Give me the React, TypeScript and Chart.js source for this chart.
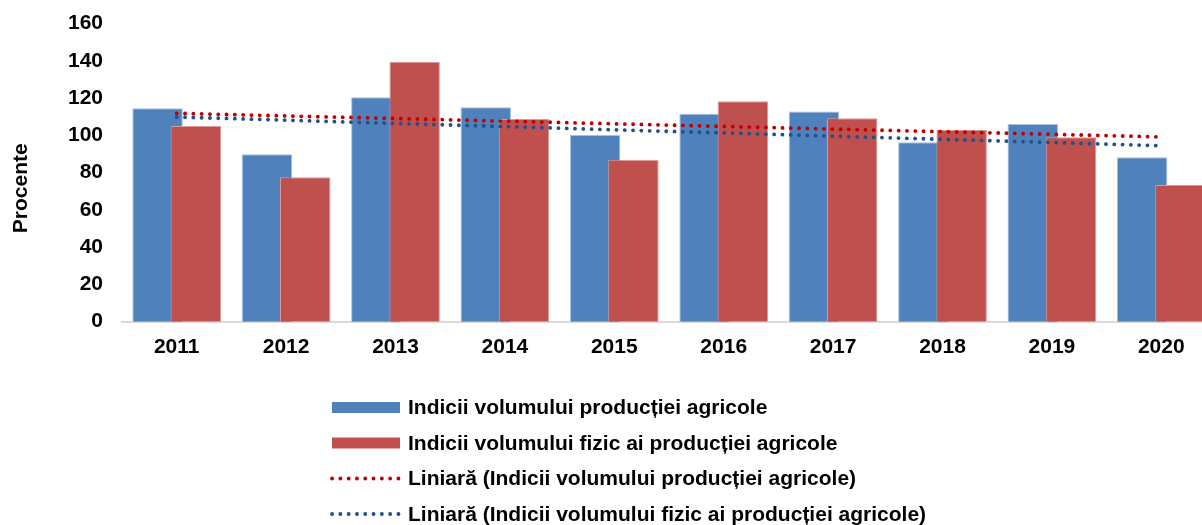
import React, { useEffect, useRef } from "react";
import { Chart, registerables } from "chart.js";

Chart.register(...registerables);

const categories = ["2011", "2012", "2013", "2014", "2015", "2016", "2017", "2018", "2019", "2020"];
const seriesA = [114.6, 89.9, 120.5, 115.1, 100.2, 111.7, 112.8, 96.3, 106.1, 88.3];
const seriesB = [105.1, 77.5, 139.6, 108.8, 87.0, 118.3, 109.2, 103.1, 99.0, 73.4];
// trend lines (read at first and last category)
const trendA = [111.9, null, null, null, null, null, null, null, null, 99.2];
const trendB = [109.9, null, null, null, null, null, null, null, null, 94.5];

const labelA = "Indicii volumului producției agricole";
const labelB = "Indicii volumului fizic ai producției agricole";
const labelTA = "Liniară (Indicii volumului producției agricole)";
const labelTB = "Liniară (Indicii volumului fizic ai producției agricole)";
const yTitle = "Procente";

const yTicks = [0, 20, 40, 60, 80, 100, 120, 140, 160];

const FONT = "Arial, 'Liberation Sans', sans-serif";
const FS = 21;
const BLUE = "#4F81BD";
const RED = "#C0504D";
const TREND_RED = "#C00000";
const TREND_BLUE = "#23508A";
const DOT_DASH = [0.1, 8.2];

const underlayPlugin = {
  id: "underlay",
  beforeDatasetsDraw(chart: any) {
    const meta = chart.getDatasetMeta(0);
    if (meta && !meta.hidden) {
      chart.ctx.save();
      meta.controller.draw();
      chart.ctx.restore();
    }
  },
  beforeDatasetDraw(_chart: any, args: any) {
    if (args.index === 0) return false;
    return true;
  },
};

const legendPlugin = {
  id: "customLegend",
  afterDraw(chart: any) {
    const ctx = chart.ctx as CanvasRenderingContext2D;
    const ds = chart.data.datasets;
    const x0 = 332;
    const sw = 68;
    const y0 = 407.5;
    const gap = 35.5;
    ctx.save();
    ctx.font = `bold ${FS}px ${FONT}`;
    ctx.textBaseline = "middle";
    ctx.textAlign = "left";
    ds.forEach((d: any, i: number) => {
      const y = y0 + i * gap;
      if (d.type === "line") {
        ctx.save();
        ctx.strokeStyle = d.borderColor;
        ctx.lineWidth = d.borderWidth;
        ctx.lineCap = "round";
        ctx.setLineDash(d.borderDash);
        ctx.beginPath();
        ctx.moveTo(x0, y);
        ctx.lineTo(x0 + sw, y);
        ctx.stroke();
        ctx.restore();
      } else {
        ctx.fillStyle = d.backgroundColor;
        ctx.fillRect(x0, y - 5.5, sw, 11);
      }
      ctx.fillStyle = "#000";
      ctx.fillText(d.label, x0 + sw + 8, y + 1);
    });
    // y axis title
    ctx.save();
    ctx.translate(21.3, 188.3);
    ctx.rotate(-Math.PI / 2);
    ctx.textAlign = "center";
    ctx.textBaseline = "middle";
    ctx.fillText(yTitle, 0, 0);
    ctx.restore();
    ctx.restore();
  },
};

export default function App() {
  const ref = useRef<HTMLCanvasElement | null>(null);

  useEffect(() => {
    if (!ref.current) return;
    const chart = new Chart(ref.current, {
      type: "bar",
      data: {
        labels: categories,
        datasets: [
          {
            type: "bar",
            label: labelA,
            data: seriesA,
            backgroundColor: BLUE,
            borderColor: "#A9C0DF",
            borderWidth: 1,
            categoryPercentage: 0.7,
            barPercentage: 1.318,
          } as any,
          {
            type: "bar",
            label: labelB,
            data: seriesB,
            backgroundColor: RED,
            borderColor: "#DA9A98",
            borderWidth: 1,
            categoryPercentage: 0.7,
            barPercentage: 1.318,
          } as any,
          {
            type: "line",
            label: labelTA,
            data: trendA,
            borderColor: TREND_RED,
            borderWidth: 3.8,
            borderDash: DOT_DASH,
            borderCapStyle: "round",
            pointRadius: 0,
            spanGaps: true,
            fill: false,
            order: -1,
          } as any,
          {
            type: "line",
            label: labelTB,
            data: trendB,
            borderColor: TREND_BLUE,
            borderWidth: 3.8,
            borderDash: DOT_DASH,
            borderCapStyle: "round",
            pointRadius: 0,
            spanGaps: true,
            fill: false,
            order: -1,
          } as any,
        ],
      },
      options: {
        responsive: false,
        animation: false,
        layout: { padding: { left: 0, right: 24, top: 23.7, bottom: 0 } },
        plugins: {
          legend: { display: false },
          tooltip: { enabled: false },
        },
        scales: {
          x: {
            type: "category",
            offset: true,
            grid: { display: false, drawTicks: false },
            border: { display: true, color: "#D9D9D9", width: 2 },
            ticks: {
              padding: 13,
              color: "#000",
              font: { family: FONT, size: FS, weight: "bold" },
              maxRotation: 0,
              autoSkip: false,
            },
            afterFit: (scale: any) => {
              scale.height = 525 - 321.7;
            },
          },
          y: {
            min: 0,
            max: 160,
            afterBuildTicks: (scale: any) => {
              scale.ticks = yTicks.map((v) => ({ value: v }));
            },
            grid: { display: false, drawTicks: false },
            border: { display: false },
            ticks: {
              padding: 19,
              color: "#000",
              font: { family: FONT, size: FS, weight: "bold" },
            },
            title: { display: false },
            afterFit: (scale: any) => {
              scale.width = 122;
              scale.paddingTop = 0;
              scale.paddingBottom = 0;
            },
          },
        },
      } as any,
      plugins: [underlayPlugin, legendPlugin],
    });
    return () => chart.destroy();
  }, []);

  return (
    <div
      style={{
        position: "absolute",
        left: 0,
        top: 0,
        width: 1202,
        height: 525,
        overflow: "hidden",
        background: "#fff",
      }}
    >
      <canvas ref={ref} width={1240} height={525} style={{ display: "block" }} />
    </div>
  );
}
